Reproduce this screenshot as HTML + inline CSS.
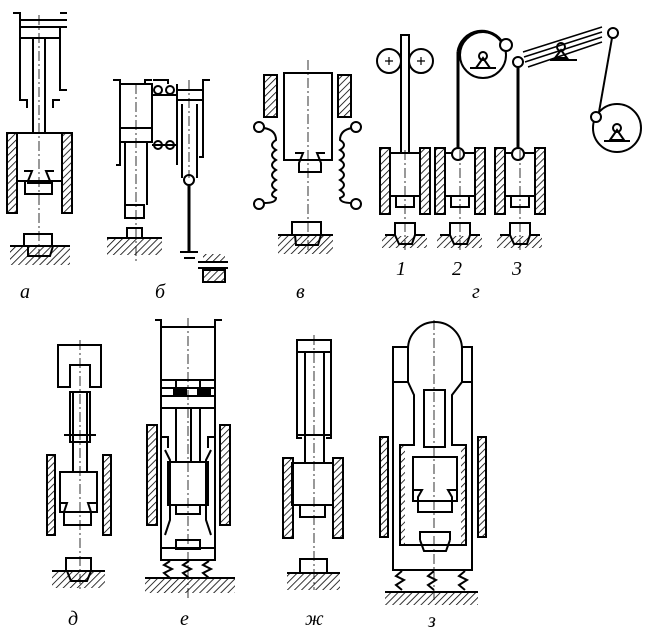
<!DOCTYPE html>
<html><head><meta charset="utf-8"><style>
html,body{margin:0;padding:0;background:#fff;}
svg{display:block;}
text{font-family:"Liberation Serif",serif;font-style:italic;font-size:20px;fill:#000;}
</style></head><body>
<svg width="647" height="635" viewBox="0 0 647 635" xmlns="http://www.w3.org/2000/svg">
<defs>
<pattern id="h" width="5" height="5" patternUnits="userSpaceOnUse" patternTransform="rotate(45)">
<line x1="0" y1="0" x2="0" y2="5" stroke="#000" stroke-width="1.6"/>
</pattern>
</defs>
<g fill="none" stroke="#000" stroke-width="2">

<!-- а -->
<path d="M13 13H20V100H27V108M60 13H67M20 20H67M20 27H67M60 27V90H67M60 100H53V108"/>
<line x1="20" y1="38" x2="60" y2="38"/>
<path d="M33 38V133M45 38V133"/>
<rect x="17" y="133" width="45" height="48"/>
<path d="M24 171H32L28 181V183H50V181L46 171H54" />
<rect x="25" y="181" width="27" height="13"/>
<rect x="7" y="133" width="10" height="80" fill="url(#h)"/>
<rect x="62" y="133" width="10" height="80" fill="url(#h)"/>
<path d="M24 246V234H52V246M28 246L28 256H50L53 246"/>
<line x1="10" y1="246" x2="70" y2="246"/>
<rect x="10" y="247" width="60" height="18" fill="url(#h)" stroke="none"/>

<!-- б -->
<path d="M113 80H120V165H116M152 80H145V84"/>
<rect x="120" y="84" width="32" height="44"/>
<rect x="120" y="128" width="32" height="14"/>
<path d="M125 142V205M147 142V205"/>
<rect x="125" y="205" width="19" height="13"/>
<rect x="127" y="228" width="15" height="10"/>
<line x1="107" y1="238" x2="162" y2="238"/>
<rect x="107" y="239" width="55" height="16" fill="url(#h)" stroke="none"/>
<path d="M152 95H177M152 145H177"/>
<circle cx="158" cy="90" r="4"/><circle cx="170" cy="90" r="4"/>
<circle cx="158" cy="145" r="4"/><circle cx="170" cy="145" r="4"/>
<path d="M153 80H168V84M210 80H203V157H199M177 84V165"/>
<line x1="177" y1="90" x2="203" y2="90"/>
<line x1="177" y1="100" x2="203" y2="100"/>
<path d="M182 104V178M197 104V178"/>
<circle cx="189" cy="180" r="5"/>
<line x1="189" y1="185" x2="189" y2="252" stroke-width="3"/>
<path d="M180 252H198M184 258H195M198 262H228M198 268H228"/>
<rect x="203" y="254" width="22" height="8" fill="url(#h)" stroke="none"/>
<rect x="203" y="270" width="22" height="12" fill="url(#h)"/>

<!-- в -->
<rect x="264" y="75" width="13" height="42" fill="url(#h)"/>
<rect x="338" y="75" width="13" height="42" fill="url(#h)"/>
<rect x="284" y="73" width="48" height="87"/>
<path d="M295 153H303L299 163V172H321V163L317 153H325"/>
<path d="M264 128Q276 130 276 140Q268 145 276 150Q268 155 276 160Q268 165 276 170Q268 175 276 180Q268 185 276 190Q268 195 276 198Q276 203 264 203"/>
<path d="M352 128Q340 130 340 140Q348 145 340 150Q348 155 340 160Q348 165 340 170Q348 175 340 180Q348 185 340 190Q348 195 340 198Q340 203 352 203"/>
<circle cx="259" cy="127" r="5" fill="#fff"/><circle cx="259" cy="204" r="5" fill="#fff"/>
<circle cx="356" cy="127" r="5" fill="#fff"/><circle cx="356" cy="204" r="5" fill="#fff"/>
<path d="M292 235V222H321V235M295 235L296 245H318L321 235"/>
<line x1="278" y1="235" x2="333" y2="235"/>
<rect x="278" y="236" width="55" height="18" fill="url(#h)" stroke="none"/>

<!-- г -->
<g id="u">
<rect x="380" y="148" width="10" height="66" fill="url(#h)"/>
<rect x="420" y="148" width="10" height="66" fill="url(#h)"/>
<rect x="390" y="153" width="30" height="43"/>
<rect x="396" y="196" width="18" height="11"/>
<path d="M385 235H395V223H415V235H425M395 235L399 244H412L415 235"/>
<rect x="382" y="236" width="45" height="12" fill="url(#h)" stroke="none"/>
</g>
<use href="#u" x="55"/>
<use href="#u" x="115"/>
<rect x="401" y="35" width="8" height="118"/>
<circle cx="389" cy="61" r="12"/><circle cx="421" cy="61" r="12"/>
<path d="M385 61H393M389 57V65M417 61H425M421 57V65" stroke-width="1.2"/>
<line x1="458" y1="154" x2="458" y2="52" stroke-width="3"/>
<path d="M458 52A24 24 0 0 1 503 44" stroke-width="3"/>
<circle cx="483" cy="55" r="23"/>
<circle cx="506" cy="45" r="6" fill="#fff"/>
<circle cx="483" cy="56" r="4"/>
<path d="M476 68L483 58L490 68ZM470 68H496"/>
<circle cx="458" cy="154" r="6" fill="#fff"/>
<line x1="518" y1="154" x2="518" y2="62" stroke-width="3"/>
<circle cx="518" cy="62" r="5" fill="#fff"/>
<circle cx="518" cy="154" r="6" fill="#fff"/>
<path d="M523 52L602 27M524 57L602 32M525 62L602 37M528 67L602 42" stroke-width="1.5"/>
<circle cx="561" cy="47" r="4"/>
<path d="M555 58L561 50L567 58ZM550 60H577"/>
<circle cx="613" cy="33" r="5" fill="#fff"/>
<line x1="612" y1="38" x2="599" y2="112"/>
<circle cx="617" cy="128" r="24"/>
<circle cx="596" cy="117" r="5" fill="#fff"/>
<circle cx="617" cy="128" r="4"/>
<path d="M610 140L617 130L624 140ZM604 141H630"/>

<!-- д -->
<path d="M58 387V345H101V387H90V365H70V387H58Z"/>
<rect x="70" y="392" width="20" height="50"/>
<path d="M73 392V472M87 392V472M64 435H96"/>
<rect x="60" y="472" width="37" height="40"/>
<path d="M60 503H67L64 512V525H91V512L88 503H97"/>
<rect x="47" y="455" width="8" height="80" fill="url(#h)"/>
<rect x="103" y="455" width="8" height="80" fill="url(#h)"/>
<path d="M66 571V558H91V571M67 571L71 581H87L91 571"/>
<line x1="52" y1="571" x2="105" y2="571"/>
<rect x="52" y="572" width="53" height="16" fill="url(#h)" stroke="none"/>

<!-- е -->
<path d="M155 320H161V560H215V320H222"/>
<line x1="161" y1="327" x2="215" y2="327"/>
<path d="M161 380H215M161 388H215M161 396H215M161 408H215M176 380V388M200 380V388"/>
<rect x="174" y="388" width="12" height="8" fill="#000"/>
<rect x="198" y="388" width="12" height="8" fill="#000"/>
<path d="M176 408V462M191 408V462M200 408V462"/>
<path d="M161 437H168V448M215 437H208V448M165 450L170 460V520L165 535M211 450L206 460V520L211 535"/>
<rect x="168" y="462" width="40" height="43"/>
<rect x="176" y="505" width="24" height="9"/>
<rect x="176" y="540" width="24" height="9"/>
<line x1="161" y1="548" x2="215" y2="548"/>
<rect x="147" y="425" width="10" height="100" fill="url(#h)"/>
<rect x="220" y="425" width="10" height="100" fill="url(#h)"/>
<path d="M170 561L164 565L172 569L164 573L170 578M189 561L183 565L191 569L183 573L189 578M209 561L203 565L211 569L203 573L209 578" stroke-width="2"/>
<line x1="145" y1="578" x2="235" y2="578"/>
<rect x="145" y="579" width="90" height="14" fill="url(#h)" stroke="none"/>

<!-- ж -->
<rect x="297" y="340" width="34" height="12"/>
<rect x="297" y="352" width="34" height="83"/>
<path d="M305 352V463M324 352V463M297 428V438H302M331 428V438H326"/>
<rect x="292" y="463" width="41" height="42"/>
<rect x="300" y="505" width="25" height="12"/>
<rect x="283" y="458" width="10" height="80" fill="url(#h)"/>
<rect x="333" y="458" width="10" height="80" fill="url(#h)"/>
<rect x="300" y="559" width="27" height="14"/>
<line x1="287" y1="573" x2="340" y2="573"/>
<rect x="287" y="574" width="53" height="16" fill="url(#h)" stroke="none"/>

<!-- з -->
<path d="M408 349A27 27 0 0 1 462 349"/>
<path d="M393 347V570H472V347H462V382L452 395V445H466V545H400V445H414V395L408 382V347Z"/>
<path d="M408 349V382M462 349V382M408 382H393M462 382H472"/>
<rect x="424" y="390" width="21" height="57"/>
<rect x="413" y="457" width="44" height="44"/>
<path d="M413 490H422L418 497V512H452V497L448 490H457"/>
<path d="M420 545V537H450V545M420 545L424 556H446L450 545" transform="translate(0,-5)"/>
<rect x="400" y="445" width="5" height="100" fill="url(#h)" stroke="none"/>
<rect x="461" y="445" width="5" height="100" fill="url(#h)" stroke="none"/>
<rect x="380" y="437" width="8" height="100" fill="url(#h)"/>
<rect x="478" y="437" width="8" height="100" fill="url(#h)"/>
<path d="M402 571L396 576L404 580L396 585L402 590M434 571L428 576L436 580L428 585L434 590M465 571L459 576L467 580L459 585L465 590"/>
<line x1="385" y1="592" x2="478" y2="592"/>
<rect x="385" y="593" width="93" height="12" fill="url(#h)" stroke="none"/>
</g>

<!-- center lines -->
<g stroke="#000" stroke-width="0.8" stroke-dasharray="10 3 2 3" fill="none">
<path d="M39 15V260M136 84V262M189 80V178M308 60V250M405 150V250M460 150V250M520 150V250M80 340V590M188 318V600M314 335V590M434 320V600"/>
</g>

<text x="20" y="298">а</text>
<text x="155" y="298">б</text>
<text x="296" y="298">в</text>
<text x="396" y="275">1</text>
<text x="452" y="275">2</text>
<text x="512" y="275">3</text>
<text x="472" y="298">г</text>
<text x="68" y="625">д</text>
<text x="180" y="625">е</text>
<text x="305" y="625">ж</text>
<text x="428" y="627">з</text>
</svg>
</body></html>
